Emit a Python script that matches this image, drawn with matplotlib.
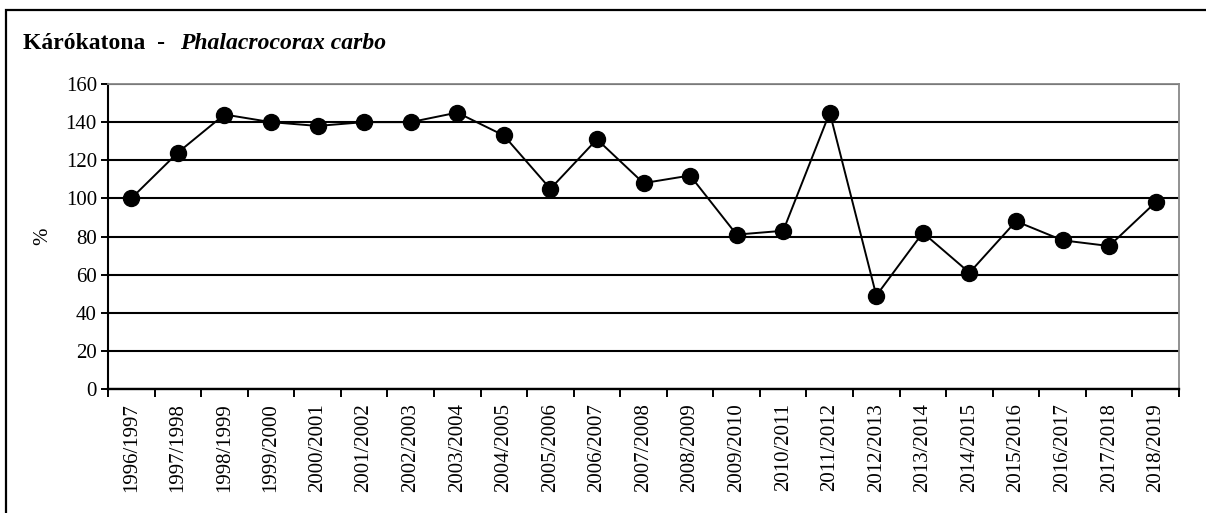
import matplotlib
matplotlib.use('Agg')
import matplotlib.pyplot as plt
from matplotlib.patches import Rectangle
import numpy as np

plt.rcParams['font.family'] = ['Liberation Serif', 'DejaVu Serif']

# 数据
seasons = ['1996/1997', '1997/1998', '1998/1999', '1999/2000', '2000/2001',
           '2001/2002', '2002/2003', '2003/2004', '2004/2005', '2005/2006',
           '2006/2007', '2007/2008', '2008/2009', '2009/2010', '2010/2011',
           '2011/2012', '2012/2013', '2013/2014', '2014/2015', '2015/2016',
           '2016/2017', '2017/2018', '2018/2019']
values = [100, 124, 144, 140, 138, 140, 140, 145, 133, 105, 131, 108, 112,
          81, 83, 145, 49, 82, 61, 88, 78, 75, 98]
yticks = [0, 20, 40, 60, 80, 100, 120, 140, 160]

W, H = 1206, 513
fig = plt.figure(figsize=(W / 100, H / 100), dpi=100)
ax = fig.add_axes([108 / W, 1 - 389 / H, (1179 - 108) / W, (389 - 84) / H])

x = np.arange(len(seasons))
ax.plot(x, values, '-', color='black', linewidth=1.4, marker='o',
        markersize=11.5, markerfacecolor='black', markeredgecolor='black',
        zorder=3, clip_on=False)

ax.set_xlim(-0.5, len(seasons) - 0.5)
ax.set_ylim(0, 160)
ax.set_yticks(yticks)
ax.set_yticklabels([str(v) for v in yticks], fontsize=15)
ax.yaxis.grid(True, color='black', linewidth=1.5)
ax.set_axisbelow(True)

# 刻度在分类边界，标签在中心
ax.set_xticks(np.arange(-0.5, len(seasons)), minor=False)
ax.set_xticklabels([])
ax.set_xticks(x, minor=True)
ax.set_xticklabels(seasons, minor=True, rotation=90, fontsize=15)
ax.tick_params(axis='x', which='major', length=6, width=1.4, direction='out')
ax.tick_params(axis='x', which='minor', length=0, pad=10)
ax.tick_params(axis='y', length=5, width=1.4, direction='out', pad=3)

ax.spines['left'].set_linewidth(1.5)
ax.spines['bottom'].set_linewidth(1.7)
ax.spines['top'].set_color('#888888')
ax.spines['right'].set_color('#888888')
ax.spines['top'].set_linewidth(1.3)
ax.spines['right'].set_linewidth(1.3)

ax.set_ylabel('%', fontsize=15, labelpad=10)

# 标题
fig.text(23 / W, 1 - 49 / H, 'Kárókatona  -', fontsize=17, fontweight='bold',
         va='baseline', ha='left')
fig.text(180 / W, 1 - 49 / H, 'Phalacrocorax carbo', fontsize=17,
         fontweight='bold', fontstyle='italic', va='baseline', ha='left')

# 外框
frame = Rectangle((6 / W, -0.2), 1.2, 1 - 10 / H + 0.2, transform=fig.transFigure,
                  fill=False, edgecolor='black', linewidth=1.6, clip_on=False)
fig.patches.append(frame)

fig.savefig('out.png', dpi=100, facecolor='white')
plt.close(fig)
